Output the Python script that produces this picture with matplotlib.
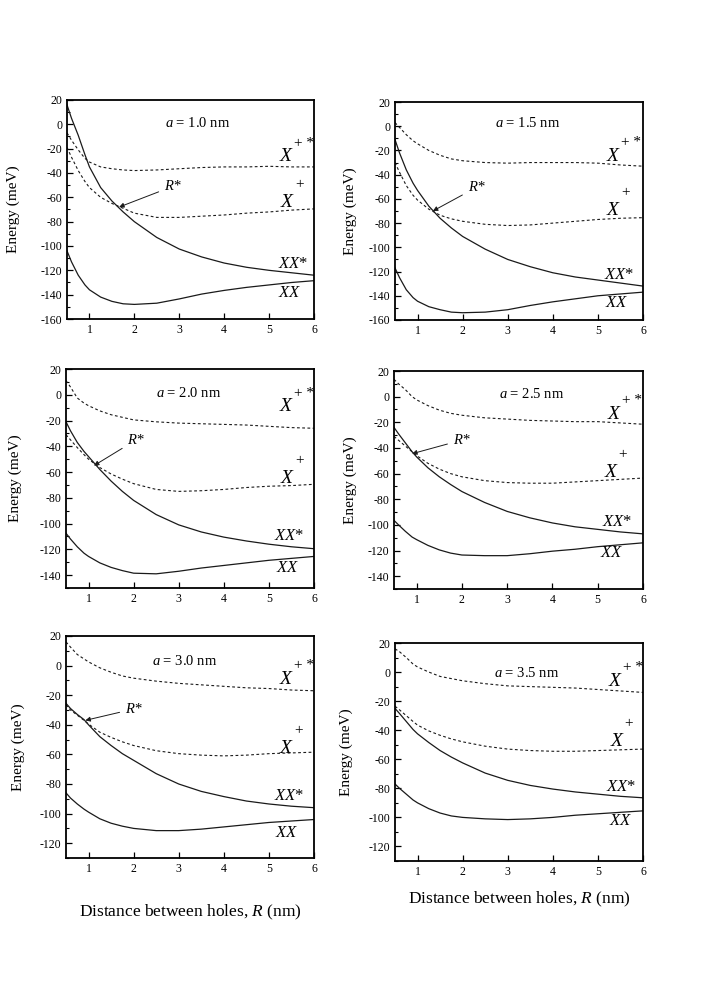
import numpy as np
import matplotlib
matplotlib.use('Agg')
import matplotlib.pyplot as plt
from matplotlib.ticker import MultipleLocator

plt.rcParams['font.family'] = ['Liberation Serif', 'DejaVu Serif']
plt.rcParams['mathtext.fontset'] = 'custom'
plt.rcParams['mathtext.rm'] = 'Liberation Serif'
plt.rcParams['mathtext.it'] = 'Liberation Serif:italic'
plt.rcParams['axes.unicode_minus'] = False

# 孔间距 R (nm)
R = [0.5, 0.6, 0.75, 0.9, 1.0, 1.25, 1.5, 1.75, 2.0, 2.5, 3.0, 3.5, 4.0, 4.5, 5.0, 5.5, 6.0]

# a = 1.0 nm
xp_star_10 = [-7, -13, -21, -28, -31, -35, -36.5, -37.5, -38, -37.5, -36.5, -35.5, -35, -35, -34.5, -35, -35]
xp_10 = [-19, -27, -38, -47, -52, -60, -65, -69, -73, -76.5, -76.5, -75.5, -74.5, -73, -72, -70.5, -69.5]
xx_star_10 = [16, 5, -9, -25, -35, -52, -63, -72, -80, -93, -102.5, -109, -114, -117.5, -120, -122, -124]
xx_10 = [-104, -113, -124, -132, -136, -142, -145.5, -147.5, -148, -147, -143.5, -139.5, -136.5, -134, -132, -130, -128.5]

# a = 1.5 nm
xp_star_15 = [3, -1, -7, -12, -14.5, -20, -24, -27, -28.5, -30, -30.5, -30, -30, -30, -30.5, -32, -33]
xp_15 = [-30, -38, -49, -57, -61, -68.5, -73.5, -76.5, -78.5, -81, -82, -81.5, -80, -78.5, -77, -76, -75.5]
xx_star_15 = [-11, -22, -36, -47, -53, -66, -76, -84, -91, -101.5, -110, -116, -121, -124.5, -127, -129.5, -132]
xx_15 = [-117, -125, -135, -141.5, -144.5, -149, -151.5, -153.5, -154, -153.5, -151.5, -148, -145, -142.5, -140, -138.5, -137]

# a = 2.0 nm
xp_star_20 = [11, 6, -2.5, -6.5, -8.5, -12.5, -15.5, -17.5, -19.5, -21, -22, -22.5, -23, -23.5, -24.5, -25.5, -26]
xp_20 = [-31, -35, -41, -46.5, -50, -56.5, -61.5, -65.5, -69, -73.5, -75, -74.5, -73.5, -72, -71, -70.5, -69.5]
xx_star_20 = [-21, -28, -37, -44, -48, -58, -67, -75, -82, -93, -101, -106.5, -110.5, -113.5, -116, -118, -119.5]
xx_20 = [-107.5, -112, -118, -123, -125.5, -130.5, -134, -136.5, -138.5, -139, -137, -134.5, -132.5, -130.5, -128.5, -127, -125.5]

# a = 2.5 nm
xp_star_25 = [13.5, 10, 5.5, 0, -2.5, -7, -10.5, -13, -14.5, -16.5, -17.5, -18.5, -19, -19.5, -19.5, -20.5, -21.5]
xp_25 = [-31, -34, -38.5, -43, -46, -52, -56.5, -60, -62.5, -65.5, -67, -67.5, -67.5, -66.5, -65.5, -64.5, -63.5]
xx_star_25 = [-24, -29, -36, -43, -47, -55.5, -62.5, -68.5, -74, -82.5, -89.5, -94.5, -98.5, -101.5, -103.5, -105.5, -107]
xx_25 = [-96.5, -100, -105, -109.5, -111.5, -116, -119.5, -122, -123.5, -124, -124, -122.5, -120.5, -119, -117, -115.5, -114]

# a = 3.0 nm
xp_star_30 = [16, 12.5, 7.5, 4.5, 2.5, -1.5, -4.5, -7, -8.5, -10.5, -12, -13, -14, -15, -15.5, -16.5, -17]
xp_30 = [-26.5, -30, -33.5, -37, -39.5, -45, -48.5, -51.5, -54, -57.5, -59.5, -60.5, -61, -60.5, -59.5, -59, -58.5]
xx_star_30 = [-25.5, -29, -33, -36.5, -40, -48, -54, -59.5, -64, -73, -80, -85, -88.5, -91.5, -93.5, -95, -96]
xx_30 = [-86, -89.5, -93.5, -97, -99, -103.5, -106.5, -108.5, -110, -111.5, -111.5, -110.5, -109, -107.5, -106, -105, -104]

# a = 3.5 nm
xp_star_35 = [16, 14, 10, 5.5, 3.5, 0, -3, -4.5, -6, -8, -9.5, -10, -10.5, -11, -12, -13, -14]
xp_35 = [-23.5, -26, -30, -34, -36.5, -40.5, -43.5, -46, -48, -51, -53, -54, -54.5, -54.5, -54, -53.5, -53]
xx_star_35 = [-25, -28.5, -34, -39.5, -42.5, -48.5, -54, -58.5, -62.5, -69.5, -74.5, -78, -80.5, -82.5, -84, -85.5, -86.5]
xx_35 = [-77, -80, -84, -88, -90, -94, -97, -99, -100, -101, -101.5, -101, -100, -98.5, -97.5, -96.5, -95.5]

a_labels = ['1.0', '1.5', '2.0', '2.5', '3.0', '3.5']
series = [
    (xp_star_10, xp_10, xx_star_10, xx_10),
    (xp_star_15, xp_15, xx_star_15, xx_15),
    (xp_star_20, xp_20, xx_star_20, xx_20),
    (xp_star_25, xp_25, xx_star_25, xx_25),
    (xp_star_30, xp_30, xx_star_30, xx_30),
    (xp_star_35, xp_35, xx_star_35, xx_35),
]
ylims = [(-160, 20), (-160, 20), (-150, 20), (-150, 20), (-130, 20), (-130, 20)]

# 图中位置（像素换算）
W, H = 708, 1007
rects_px = [(67, 100, 314, 319), (395, 102, 643, 320),
            (66, 369, 314, 588), (394, 371, 643, 589),
            (66, 636, 314, 858), (395, 643, 643, 861)]
ylab_x = [-0.19, -0.153, -0.178, -0.15, -0.166, -0.17]
xlab_y = [None, None, None, None, -0.203, -0.133]

# 标注位置 (R, E)
a_pos = [(3.4, 0.8), (3.44, 2.6), (3.21, 1.3), (3.54, 2.4), (3.14, 2.9), (3.42, -0.7)]
xps_pos = [(5.37, -26.5), (5.33, -24.9), (5.37, -9.1), (5.35, -13.7), (5.37, -9.1), (5.37, -6.2)]
xp_pos = [(5.4, -64), (5.33, -69.5), (5.4, -65), (5.28, -59.2), (5.37, -56), (5.41, -47.5)]
xxs_pos = [(5.53, -114.5), (5.48, -122.7), (5.46, -110), (5.42, -98), (5.46, -88), (5.52, -79.1)]
xx_pos = [(5.46, -139), (5.41, -146), (5.42, -134.8), (5.31, -121.9), (5.4, -113), (5.5, -102.5)]
rstar_text = [(2.66, -51), (2.11, -50.5), (1.86, -35), (1.8, -33.9), (1.81, -29.3), None]
rstar_tip = [(1.66, -68), (1.34, -70), (1.12, -55), (0.9, -44.5), (0.93, -37), None]

fig = plt.figure(figsize=(W / 100, H / 100), dpi=100)
line_c = '#1a1a1a'

for i, (l, t, r, b) in enumerate(rects_px):
    ax = fig.add_axes([l / W, 1 - b / H, (r - l) / W, (b - t) / H])
    xps, xp, xxs, xx = series[i]
    ax.plot(R, xps, color=line_c, lw=0.8, ls=(0, (2.5, 2.2)))
    ax.plot(R, xp, color=line_c, lw=0.8, ls=(0, (2.5, 2.2)))
    ax.plot(R, xxs, color=line_c, lw=0.9)
    ax.plot(R, xx, color=line_c, lw=0.9)

    ax.set_xlim(0.5, 6)
    ax.set_ylim(*ylims[i])
    ax.xaxis.set_major_locator(MultipleLocator(1))
    ax.yaxis.set_major_locator(MultipleLocator(20))
    ax.yaxis.set_minor_locator(MultipleLocator(10))
    ax.tick_params(which='both', direction='in', labelsize=8.5, top=False, right=False)
    ax.tick_params(which='major', length=4, width=0.9)
    ax.tick_params(which='minor', length=2, width=0.8)
    for sp in ax.spines.values():
        sp.set_linewidth(1.3)

    ax.set_ylabel('Energy (meV)', fontsize=11)
    ax.yaxis.set_label_coords(ylab_x[i], 0.5)
    if xlab_y[i] is not None:
        ax.set_xlabel(r'Distance between holes, $R$ (nm)', fontsize=12.5)
        ax.xaxis.set_label_coords(0.5, xlab_y[i])

    ax.text(*a_pos[i], r'$a$ = ' + a_labels[i] + ' nm', fontsize=10.5, ha='center', va='center')

    # X+* 与 X+
    ax.text(*xps_pos[i], 'X', fontsize=14, fontstyle='italic', ha='center', va='center')
    ax.annotate('+ *', xy=xps_pos[i], xytext=(6, 5), textcoords='offset points',
                fontsize=11, ha='left', va='bottom')
    ax.text(*xp_pos[i], 'X', fontsize=14, fontstyle='italic', ha='center', va='center')
    ax.annotate('+', xy=xp_pos[i], xytext=(9, 8), textcoords='offset points',
                fontsize=11, ha='center', va='bottom')
    ax.text(*xxs_pos[i], r'$XX$*', fontsize=12, ha='center', va='center')
    ax.text(*xx_pos[i], r'$XX$', fontsize=12, ha='center', va='center')

    if rstar_text[i] is not None:
        ax.annotate(r'$R$*', xy=rstar_tip[i], xytext=rstar_text[i], fontsize=10.5,
                    ha='left', va='center',
                    arrowprops=dict(arrowstyle='-|>', color=line_c, lw=0.7,
                                    mutation_scale=7, shrinkA=2, shrinkB=0))

plt.savefig('out.png', dpi=100)
plt.close()
